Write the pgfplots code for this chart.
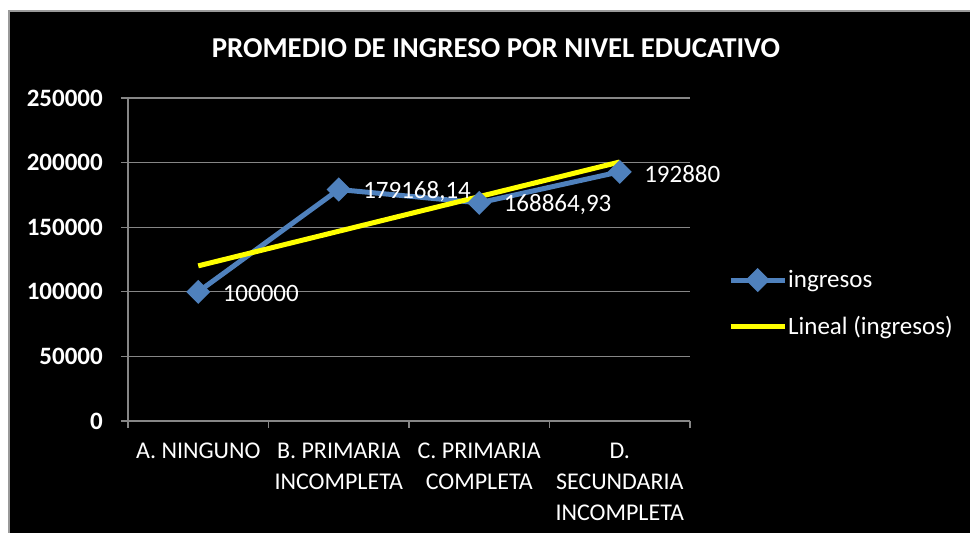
\documentclass[border=0pt]{standalone}
\usepackage{pgfplots}
\pgfplotsset{compat=1.18}
\usepackage{fontspec}
\setmainfont{Carlito}
\definecolor{serblue}{HTML}{4F81BD}
\definecolor{trendyellow}{HTML}{FFFF00}
\definecolor{axisgray}{HTML}{868686}
\definecolor{framegray}{HTML}{9A9A9A}
\begin{document}
\begin{tikzpicture}[x=1pt,y=1pt]
\path[use as bounding box] (0,0) rectangle (970,533);
\fill[white] (0,0) rectangle (970,533);
\fill[black] (9,0) rectangle (970,522);
\draw[framegray, line width=1.5pt] (9,0) -- (9,522) -- (970,522);
\begin{axis}[
  at={(128pt,112pt)}, anchor=south west,
  scale only axis, width=562pt, height=323pt,
  xmin=-0.5, xmax=3.5, ymin=0, ymax=250000,
  axis lines*=left,
  axis line style={axisgray, line width=1.2pt, -},
  ytick={0,50000,100000,150000,200000,250000},
  scaled y ticks=false,
  /pgf/number format/fixed,
  /pgf/number format/assume math mode=true,
  /pgf/number format/1000 sep={},
  yticklabel style={font=\fontsize{25}{30}\selectfont\bfseries, text=white, anchor=east, inner sep=0pt, xshift=-18pt},
  ymajorgrids,
  grid style={axisgray, line width=1.2pt},
  tick align=outside,
  major tick length=7pt,
  tick style={axisgray, line width=1.2pt},
  xtick={-0.5,0.5,1.5,2.5,3.5},
  xticklabels={},
  extra x ticks={0,1,2,3},
  extra x tick labels={A. NINGUNO, {B. PRIMARIA\\INCOMPLETA}, {C. PRIMARIA\\COMPLETA}, {D.\\SECUNDARIA\\INCOMPLETA}},
  extra x tick style={major tick length=0pt, grid=none,
    xticklabel style={font=\fontsize{24}{31}\selectfont, text=white, align=center, anchor=north, inner sep=0pt, yshift=-22pt}},
  legend style={at={(1.0676,0.364)}, anchor=west, draw=none, fill=none, text=white,
    font=\fontsize{25}{30}\selectfont, inner sep=0pt, row sep=27pt,
    cells={anchor=west}, nodes={inner xsep=1pt, inner ysep=0pt}},
  legend image code/.code={\draw[mark repeat=2,mark phase=2,#1] plot coordinates {(0pt,0pt)(27pt,0pt)(54pt,0pt)};},
]
\addplot[serblue, line width=5pt, mark=square*, mark size=6pt, mark options={rotate=45, solid},
  point meta=explicit symbolic,
  nodes near coords,
  nodes near coords style={anchor=west, xshift=22pt, yshift=-2pt, inner sep=0pt, text=white, font=\fontsize{25}{30}\selectfont}]
  coordinates {(0,100000) [100000] (1,179168.14) [179168,14] (2,168864.93) [168864,93] (3,192880) [192880]};
\addlegendentry{ingresos}
\addplot[trendyellow, line width=5pt] coordinates {(0,120077.75) (3,200478.79)};
\addlegendentry{Lineal (ingresos)}
\end{axis}
\node[text=white, font=\fontsize{28.8}{34}\selectfont\bfseries] at (496,485) {PROMEDIO DE INGRESO POR NIVEL EDUCATIVO};
\end{tikzpicture}
\end{document}
